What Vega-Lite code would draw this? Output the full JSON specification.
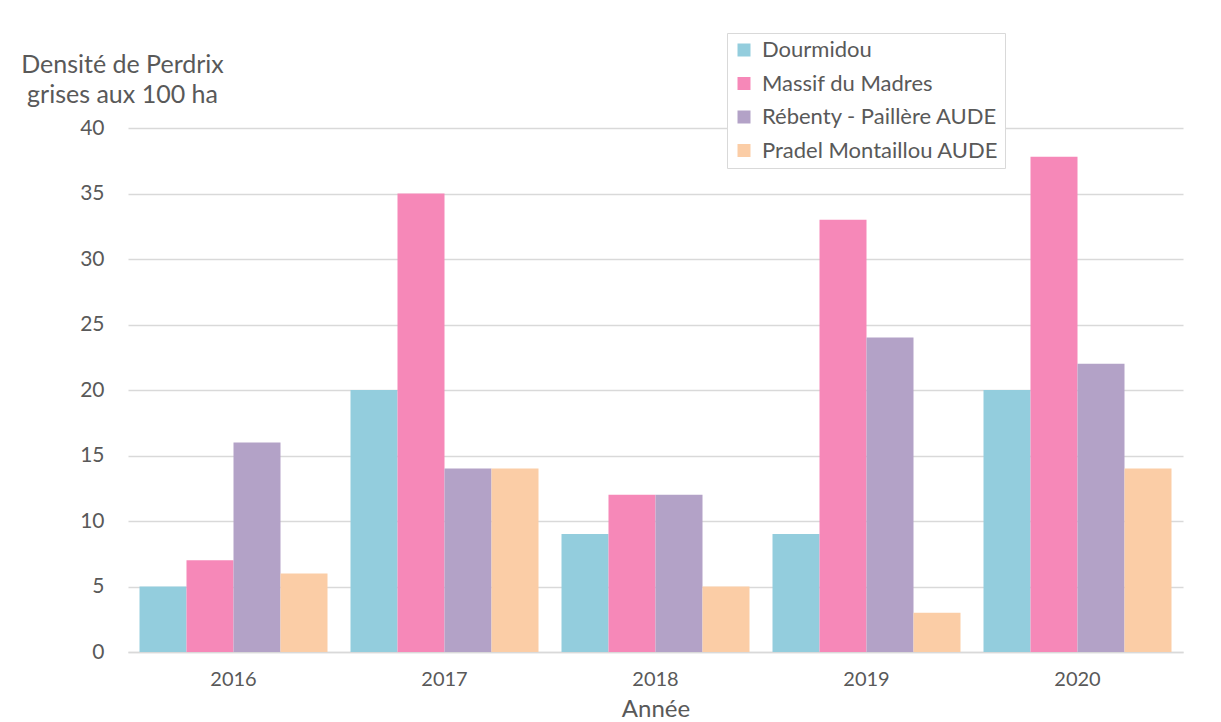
{
  "$schema": "https://vega.github.io/schema/vega-lite/v6.json",
  "width": 1055,
  "height": 524,
  "autosize": {"type": "none"},
  "padding": {"left": 128, "top": 128, "right": 38, "bottom": 70},
  "background": "white",
  "data": {
    "values": [
      {"annee": "2016", "site": "Dourmidou", "densite": 5},
      {"annee": "2016", "site": "Massif du Madres", "densite": 7},
      {"annee": "2016", "site": "Rébenty - Paillère AUDE", "densite": 16},
      {"annee": "2016", "site": "Pradel Montaillou AUDE", "densite": 6},
      {"annee": "2017", "site": "Dourmidou", "densite": 20},
      {"annee": "2017", "site": "Massif du Madres", "densite": 35},
      {"annee": "2017", "site": "Rébenty - Paillère AUDE", "densite": 14},
      {"annee": "2017", "site": "Pradel Montaillou AUDE", "densite": 14},
      {"annee": "2018", "site": "Dourmidou", "densite": 9},
      {"annee": "2018", "site": "Massif du Madres", "densite": 12},
      {"annee": "2018", "site": "Rébenty - Paillère AUDE", "densite": 12},
      {"annee": "2018", "site": "Pradel Montaillou AUDE", "densite": 5},
      {"annee": "2019", "site": "Dourmidou", "densite": 9},
      {"annee": "2019", "site": "Massif du Madres", "densite": 33},
      {"annee": "2019", "site": "Rébenty - Paillère AUDE", "densite": 24},
      {"annee": "2019", "site": "Pradel Montaillou AUDE", "densite": 3},
      {"annee": "2020", "site": "Dourmidou", "densite": 20},
      {"annee": "2020", "site": "Massif du Madres", "densite": 37.8},
      {"annee": "2020", "site": "Rébenty - Paillère AUDE", "densite": 22},
      {"annee": "2020", "site": "Pradel Montaillou AUDE", "densite": 14}
    ]
  },
  "mark": {"type": "bar"},
  "encoding": {
    "x": {
      "field": "annee",
      "type": "nominal",
      "scale": {"paddingInner": 0.109, "paddingOuter": 0.0545},
      "axis": {
        "title": "Année",
        "labelAngle": 0,
        "labelFont": "Lato",
        "labelFontSize": 20,
        "labelColor": "#595959",
        "labelPadding": 17,
        "titleFont": "Lato",
        "titleFontSize": 24,
        "titleFontWeight": "normal",
        "titleColor": "#595959",
        "titlePadding": 8,
        "ticks": false,
        "domainColor": "#D9D9D9",
        "domainWidth": 1.5
      }
    },
    "xOffset": {
      "field": "site",
      "type": "nominal",
      "sort": ["Dourmidou", "Massif du Madres", "Rébenty - Paillère AUDE", "Pradel Montaillou AUDE"],
      "scale": {"paddingInner": 0, "paddingOuter": 0}
    },
    "y": {
      "field": "densite",
      "type": "quantitative",
      "scale": {"domain": [0, 40], "nice": false},
      "axis": {
        "values": [0, 5, 10, 15, 20, 25, 30, 35, 40],
        "title": ["Densité de Perdrix", " grises aux 100 ha"],
        "titleAngle": 0,
        "titleAlign": "center",
        "titleBaseline": "alphabetic",
        "titleX": -6,
        "titleY": -56,
        "titleLineHeight": 30,
        "titleFont": "Lato",
        "titleFontSize": 25,
        "titleFontWeight": "normal",
        "titleColor": "#595959",
        "labelFont": "Lato",
        "labelFontSize": 21,
        "labelColor": "#595959",
        "labelPadding": 24,
        "ticks": false,
        "domain": false,
        "gridColor": "#D9D9D9",
        "gridWidth": 1.5
      }
    },
    "color": {
      "field": "site",
      "type": "nominal",
      "sort": ["Dourmidou", "Massif du Madres", "Rébenty - Paillère AUDE", "Pradel Montaillou AUDE"],
      "scale": {
        "domain": ["Dourmidou", "Massif du Madres", "Rébenty - Paillère AUDE", "Pradel Montaillou AUDE"],
        "range": ["#93CDDD", "#F688B8", "#B3A2C7", "#FBCDA6"]
      },
      "legend": {
        "title": null,
        "orient": "none",
        "legendX": 599,
        "legendY": -95,
        "padding": 6,
        "strokeColor": "#D9D9D9",
        "fillColor": "white",
        "symbolType": "square",
        "symbolSize": 169,
        "symbolStrokeWidth": 0,
        "labelFont": "Lato",
        "labelFontSize": 22,
        "labelColor": "#595959",
        "labelOffset": 7,
        "labelLimit": 0,
        "rowPadding": 11.5
      }
    }
  },
  "config": {
    "view": {"stroke": null}
  }
}
